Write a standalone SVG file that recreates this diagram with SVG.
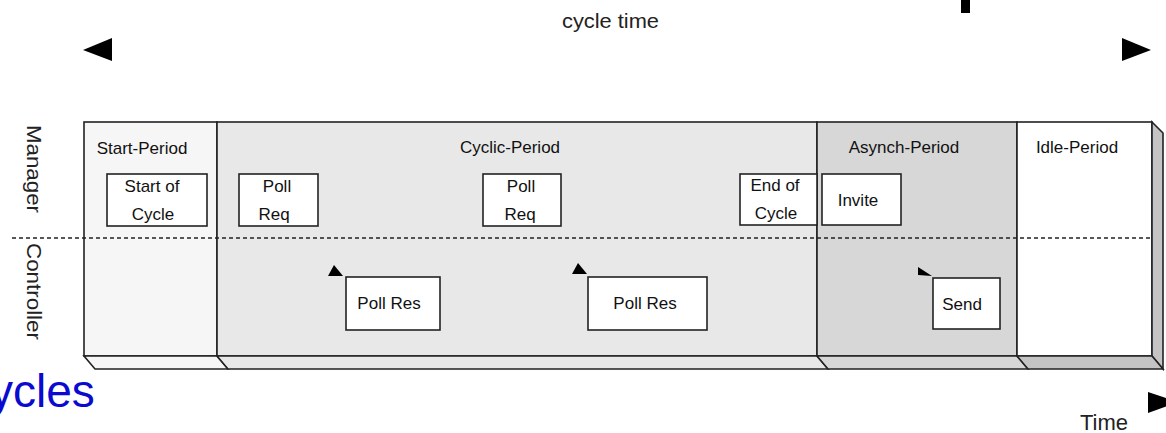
<svg xmlns="http://www.w3.org/2000/svg" width="1166" height="433" viewBox="0 0 1166 433">
<style>
.t{font-family:"Liberation Sans",Arial,sans-serif;font-size:17px;fill:#111;text-anchor:middle}
.edge{stroke:#222;stroke-width:1.6;stroke-linejoin:miter}
.box{fill:#fff;stroke:#222;stroke-width:1.6}
.lbl{font-family:"Liberation Sans",Arial,sans-serif;font-size:21px;fill:#222}
</style>
<rect width="1166" height="433" fill="#fff"/>
<g id="frame">
<rect x="84" y="122" width="133" height="234" fill="#f6f6f6" class="edge"/>
<rect x="217" y="122" width="600" height="234" fill="#e8e8e8" class="edge"/>
<rect x="817" y="122" width="200" height="234" fill="#d7d7d7" class="edge"/>
<rect x="1017" y="122" width="135" height="234" fill="#ffffff" class="edge"/>
<polygon points="1152,122 1163,133 1163,369 1152,356" fill="#c4c4c4" class="edge"/>
<polygon points="84,356 217,356 228,369 95,369" fill="#f6f6f6" class="edge"/>
<polygon points="217,356 817,356 828,369 228,369" fill="#e8e8e8" class="edge"/>
<polygon points="817,356 1017,356 1028,369 828,369" fill="#d7d7d7" class="edge"/>
<polygon points="1017,356 1152,356 1163,369 1028,369" fill="#c4c4c4" class="edge"/>
<line x1="12" y1="238" x2="1152" y2="238" stroke="#222" stroke-width="1.6" stroke-dasharray="4 3"/>
</g>
<g id="periods">
<text class="t" x="142" y="154">Start-Period</text>
<text class="t" x="510" y="153">Cyclic-Period</text>
<text class="t" x="904" y="153">Asynch-Period</text>
<text class="t" x="1077" y="153">Idle-Period</text>
</g>
<g id="lanes">
<text class="lbl" transform="translate(27,125) rotate(90)" textLength="88" lengthAdjust="spacingAndGlyphs">Manager</text>
<text class="lbl" transform="translate(27,243) rotate(90)" textLength="97" lengthAdjust="spacingAndGlyphs">Controller</text>
</g>
<g id="start-of-cycle">
<rect class="box" x="107" y="174" width="100" height="52"/>
<text class="t" x="152" y="192">Start of</text>
<text class="t" x="153" y="220">Cycle</text>
</g>
<g id="poll-req-1">
<rect class="box" x="239" y="174" width="79" height="52"/>
<text class="t" x="277" y="192">Poll</text>
<text class="t" x="274" y="220">Req</text>
</g>
<g id="poll-req-2">
<rect class="box" x="483" y="174" width="78" height="52"/>
<text class="t" x="521" y="192">Poll</text>
<text class="t" x="520" y="220">Req</text>
</g>
<g id="end-of-cycle">
<rect class="box" x="740" y="174" width="77" height="51"/>
<text class="t" x="775" y="191">End of</text>
<text class="t" x="776" y="219">Cycle</text>
</g>
<g id="invite">
<rect class="box" x="822" y="174" width="79" height="51"/>
<text class="t" x="858" y="206">Invite</text>
</g>
<g id="poll-res-1">
<rect class="box" x="346" y="277" width="94" height="53"/>
<text class="t" x="389" y="309">Poll Res</text>
</g>
<g id="poll-res-2">
<rect class="box" x="588" y="277" width="119" height="53"/>
<text class="t" x="645" y="309">Poll Res</text>
</g>
<g id="send">
<rect class="box" x="933" y="278" width="67" height="51"/>
<text class="t" x="962" y="310">Send</text>
</g>
<g id="connectors" fill="#000">
<polygon points="328,276 334,265 343,276"/>
<polygon points="572,274 578,263 587,274"/>
<polygon points="918,267 932,276 918,275"/>
<polygon points="83,50 112,38 112,61"/>
<polygon points="1122,38 1151,50 1122,61"/>
<polygon points="1148,392 1178,402 1148,413"/>
</g>
<g id="labels">
<rect x="961" y="0" width="9" height="13" fill="#000"/>
<text x="562" y="28" font-family="Liberation Sans, Arial, sans-serif" font-size="21" fill="#222" textLength="97" lengthAdjust="spacingAndGlyphs">cycle time</text>
<text x="1080" y="430" font-family="Liberation Sans, Arial, sans-serif" font-size="22" fill="#222">Time</text>
<text x="-10" y="407" font-family="Liberation Sans, Arial, sans-serif" font-size="46" fill="#0a0ad0">ycles</text>
</g>
</svg>
